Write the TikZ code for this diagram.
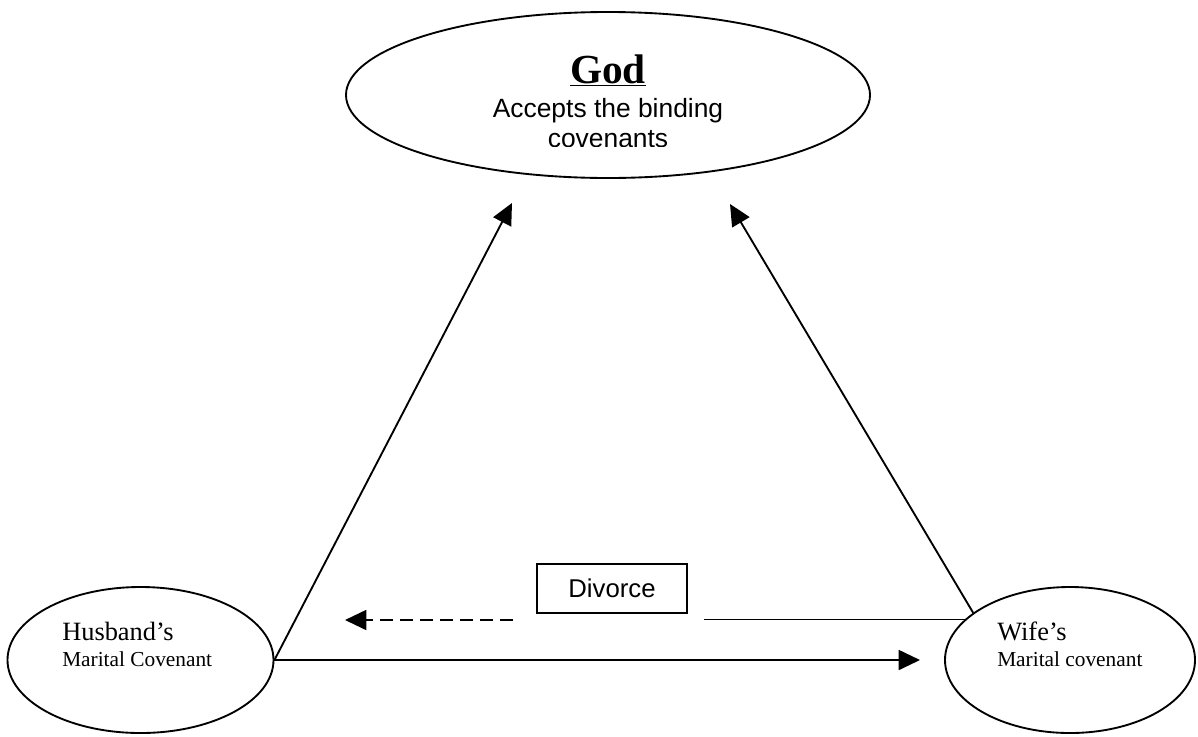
\documentclass[tikz,border=0pt]{standalone}
\usepackage{fontspec}
\setmainfont{Liberation Serif}
\newfontfamily\arialfont{Liberation Sans}
\usetikzlibrary{shapes.geometric,arrows.meta}
\tikzset{
  oval/.style={draw, ellipse, inner sep=0pt, line width=1.4pt},
  link/.style={line width=1.4pt, -{Triangle[length=16pt,width=15pt]}},
  plain/.style={line width=1.4pt},
  gaps/.style={dash pattern=on 9.75pt off 5.25pt},
  sanstext/.style={anchor=base, inner sep=0pt, font=\arialfont\fontsize{19.8pt}{24pt}\selectfont},
  bigname/.style={anchor=base west, inner sep=0pt, font=\fontsize{19.8pt}{24pt}\selectfont},
  smallname/.style={anchor=base west, inner sep=0pt, font=\fontsize{16pt}{19pt}\selectfont}
}
\begin{document}
\begin{tikzpicture}[x=0.75pt,y=-0.75pt]
\useasboundingbox (0,0) rectangle (1198,736);
% the three ovals
\node[oval, minimum width=393pt, minimum height=124.5pt] (god) at (608,95) {};
\node[oval, minimum width=199.5pt, minimum height=109.5pt] (husband) at (140.5,660) {};
\node[oval, minimum width=187.5pt, minimum height=109.5pt] (wife) at (1070,660) {};
% texts
\node[anchor=base, inner sep=0pt, font=\fontsize{31pt}{36pt}\selectfont\bfseries] (godname) at (608,83) {\underline{God}};
\node[sanstext] (accepts) at (608,117) {Accepts the binding};
\begin{scope}
\clip (450,122) rectangle (770,146.5);
\node[sanstext] (covenants) at (608,147) {covenants};
\end{scope}
\node[bigname] (husbandname) at (62,640) {Husband’s};
\node[smallname] (husbandcov) at (62,666) {Marital Covenant};
\node[bigname] (wifename) at (997,640) {Wife’s};
\node[smallname] (wifecov) at (997,666) {Marital covenant};
\node[draw, line width=1.1pt, minimum width=112.5pt, minimum height=36.75pt,
  font=\arialfont\fontsize{19.3pt}{23pt}\selectfont] (divorce) at (612,588.5) {Divorce};
% free ends
\coordinate (godleft) at (512,203);
\coordinate (godright) at (730,204);
\coordinate (wifetip) at (920,660);
\coordinate (dashstart) at (513,620);
\coordinate (dashtip) at (345,620);
\coordinate (lineend) at (704,620);
% connectors
\draw[link] (husband.east) -- (godleft);
\draw[link] (husband.east) -- (wifetip);
\draw[link] (wife.154) -- (godright);
\draw[plain] (wife.159) -- (lineend |- wife.159);
\draw[link, gaps] (dashstart) -- (dashtip);
\end{tikzpicture}
\end{document}
